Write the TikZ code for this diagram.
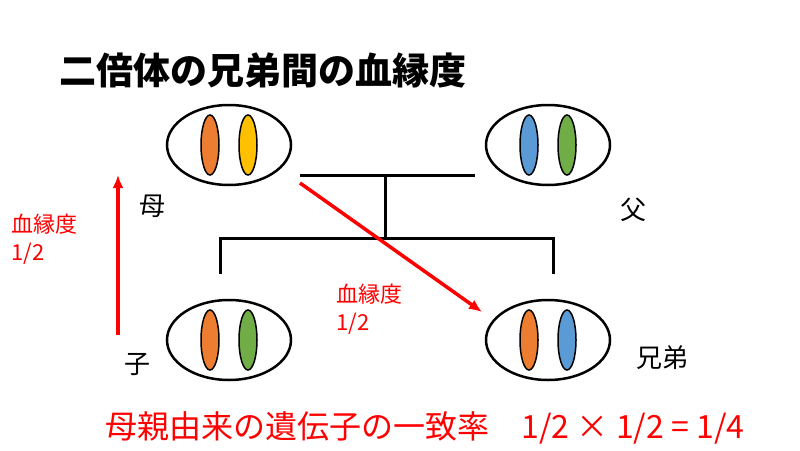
\documentclass[tikz,border=0pt]{standalone}
\usepackage{fontspec}
\setmainfont{Noto Sans CJK JP}
\definecolor{co}{HTML}{ED7D31}
\definecolor{cy}{HTML}{FFC000}
\definecolor{cb}{HTML}{5B9BD5}
\definecolor{cg}{HTML}{70AD47}
\definecolor{rr}{HTML}{FF0000}
\begin{document}
\begin{tikzpicture}[x=1pt,y=-1pt,
 cell/.style={draw,line width=2.5pt,ellipse,minimum width=124pt,minimum height=80pt},
 chr/.style={draw,line width=1.5pt,ellipse,minimum width=18pt,minimum height=60pt,inner sep=0pt},
 ln/.style={line width=3pt},
 rar/.style={rr,line width=3.5pt,-{Latex[length=13pt,width=11pt]}},
 lab/.style={font=\fontsize{26}{28}\selectfont},
 rlab/.style={rr,font=\fontsize{22}{28}\selectfont,align=left}]
\usetikzlibrary{shapes.geometric,arrows.meta}
\useasboundingbox (0,0) rectangle (800,450);
\node[cell] (m) at (229,145) {};
\node[chr,fill=co] (m1) at (210,145) {};
\node[chr,fill=cy] (m2) at (248,145) {};
\node[cell] (f) at (548,145) {};
\node[chr,fill=cb] (f1) at (529,145) {};
\node[chr,fill=cg] (f2) at (567,145) {};
\node[cell] (c) at (229,340) {};
\node[chr,fill=co] (c1) at (210,340) {};
\node[chr,fill=cg] (c2) at (248,340) {};
\node[cell] (s) at (548,340) {};
\node[chr,fill=co] (s1) at (529,340) {};
\node[chr,fill=cb] (s2) at (567,340) {};
\coordinate (h1) at (300,175); \coordinate (h2) at (475,175);
\coordinate (v1) at (385,175); \coordinate (v2) at (385,238);
\coordinate (b1) at (220,238); \coordinate (b2) at (553,238);
\coordinate (d1) at (220,274); \coordinate (d2) at (553,274);
\draw[ln] (h1) -- (h2);
\draw[ln] (v1) -- (v2);
\draw[ln] (d1) -- (b1) -- (b2) -- (d2);
\coordinate (a1) at (300,183); \coordinate (a2) at (482,312);
\draw[rar] (a1) -- (a2);
\coordinate (u1) at (118,335); \coordinate (u2) at (118,175);
\draw[rar] (u1) -- (u2);
\node[font=\bfseries\fontsize{37}{40}\selectfont,anchor=west] (t) at (56,70) {二倍体の兄弟間の血縁度};
\node[lab] (lm) at (152,206) {母};
\node[lab] (lf) at (633,210) {父};
\node[lab] (lc) at (137,364) {子};
\node[lab] (ls) at (662,358) {兄弟};
\node[rlab,anchor=north west] (r1) at (8,210) {血縁度\\1/2};
\node[rlab,anchor=north west] (r2) at (333,280) {血縁度\\1/2};
\node[rr,font=\fontsize{32}{34}\selectfont] (eq) at (425,428) {母親由来の遺伝子の一致率\hspace{32pt}1/2 × 1/2 = 1/4};
\end{tikzpicture}
\end{document}
